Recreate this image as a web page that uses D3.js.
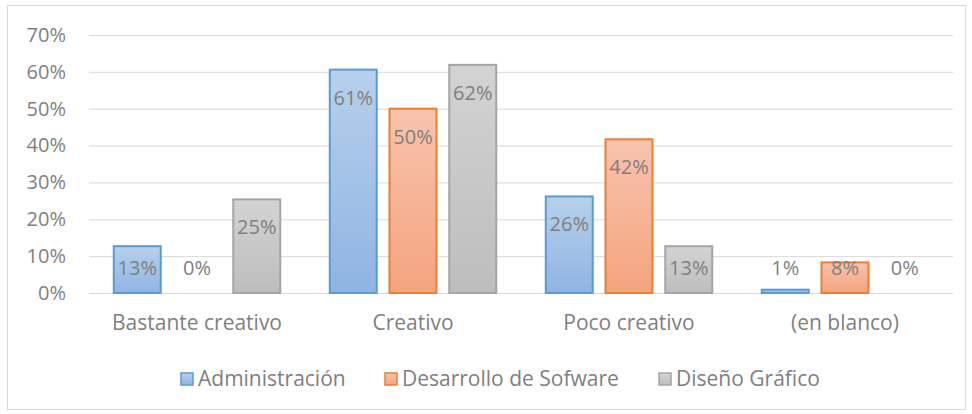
<!DOCTYPE html>
<html>
<head>
<meta charset="utf-8">
<script src="https://cdn.jsdelivr.net/npm/d3@7"></script>
<style>
	body { margin: 0; background: #fff; }
	svg text { font-family: "Open Sans", sans-serif; fill: #7f7f7f; }
</style>
</head>
<body>
<div id="graphicContainer"></div>
<script>
var categories = ["Bastante creativo", "Creativo", "Poco creativo", "(en blanco)"]
var seriesNames = ["Administración", "Desarrollo de Sofware", "Diseño Gráfico"]
var administracion = [0.127, 0.606, 0.262, 0.009]
var desarrollo = [0, 0.5, 0.417, 0.083]
var diseno = [0.254, 0.619, 0.127, 0]
var yTicks = [0, 0.1, 0.2, 0.3, 0.4, 0.5, 0.6, 0.7]

var seriesValues = [administracion, desarrollo, diseno]
var colours = [
	{top: "#b7d0ec", bottom: "#8fb4e2", stroke: "#5b9bd5"},
	{top: "#f8c3ad", bottom: "#f4a47f", stroke: "#ed7d31"},
	{top: "#d3d3d3", bottom: "#bdbdbd", stroke: "#a5a5a5"}
]

var width = 972, height = 414
var margin = {top: 35, right: 19, bottom: 121, left: 89}
var plotW = width - margin.left - margin.right
var plotH = height - margin.top - margin.bottom
var tickFont = "20px"
var textFont = "21px"

var svg = d3.select("#graphicContainer").append("svg")
	.attr("width", width)
	.attr("height", height)

svg.append("rect")
	.attr("x", 7.5).attr("y", 5.5)
	.attr("width", width - 14).attr("height", height - 10)
	.attr("fill", "none")
	.attr("stroke", "#d9d9d9")

var defs = svg.append("defs")
colours.forEach(function(c, i) {
	var g = defs.append("linearGradient")
		.attr("id", "grad" + i)
		.attr("x1", 0).attr("y1", 0).attr("x2", 0).attr("y2", 1)
	g.append("stop").attr("offset", "0%").attr("stop-color", c.top)
	g.append("stop").attr("offset", "100%").attr("stop-color", c.bottom)
})

var features = svg.append("g").attr("transform", "translate(" + margin.left + "," + margin.top + ")")

var x0 = d3.scaleBand().domain(categories).range([0, plotW])
var x1 = d3.scaleBand().domain(d3.range(seriesNames.length))
	.range([x0.bandwidth() * 0.11, x0.bandwidth() * 0.89])
	.paddingInner(0.18)
var y = d3.scaleLinear().domain([0, 0.7]).range([plotH, 0])

var yAxis = d3.axisLeft(y).tickValues(yTicks).tickFormat(d3.format(".0%")).tickSize(-plotW).tickPadding(23)

features.append("g")
	.attr("class", "y")
	.call(yAxis)
	.call(function(g) {
		g.select(".domain").remove()
		g.selectAll(".tick line").attr("stroke", "#d9d9d9")
		g.selectAll(".tick text").style("font-size", tickFont).attr("fill", "#7f7f7f")
	})

var groups = features.selectAll(".cat")
	.data(categories)
	.enter().append("g")
	.attr("class", "cat")
	.attr("transform", function(d) { return "translate(" + x0(d) + ",0)" })

groups.each(function(cat, ci) {
	var g = d3.select(this)
	seriesValues.forEach(function(vals, si) {
		var v = vals[ci]
		if (v > 0) {
			g.append("rect")
				.attr("x", x1(si) + 1)
				.attr("y", y(v))
				.attr("width", x1.bandwidth() - 2)
				.attr("height", plotH - y(v))
				.attr("fill", "url(#grad" + si + ")")
				.attr("stroke", colours[si].stroke)
				.attr("stroke-width", 2)
		}
		g.append("text")
			.attr("x", x1(si) + x1.bandwidth() / 2)
			.attr("y", Math.min(y(v) + 28, plotH - 25))
			.attr("dy", "0.35em")
			.attr("text-anchor", "middle")
			.style("font-size", tickFont)
			.text(d3.format(".0%")(v))
	})
	g.append("text")
		.attr("x", x0.bandwidth() / 2)
		.attr("y", plotH + 30)
		.attr("dy", "0.35em")
		.attr("text-anchor", "middle")
		.style("font-size", textFont)
		.text(cat)
})

var legendX = [181, 385, 659]
var legend = svg.append("g").attr("transform", "translate(0,379)")
seriesNames.forEach(function(name, i) {
	legend.append("rect")
		.attr("x", legendX[i]).attr("y", -6)
		.attr("width", 12).attr("height", 12)
		.attr("fill", "url(#grad" + i + ")")
		.attr("stroke", colours[i].stroke)
		.attr("stroke-width", 1.5)
	legend.append("text")
		.attr("x", legendX[i] + 17)
		.attr("dy", "0.35em")
		.style("font-size", textFont)
		.text(name)
})
</script>
</body>
</html>
